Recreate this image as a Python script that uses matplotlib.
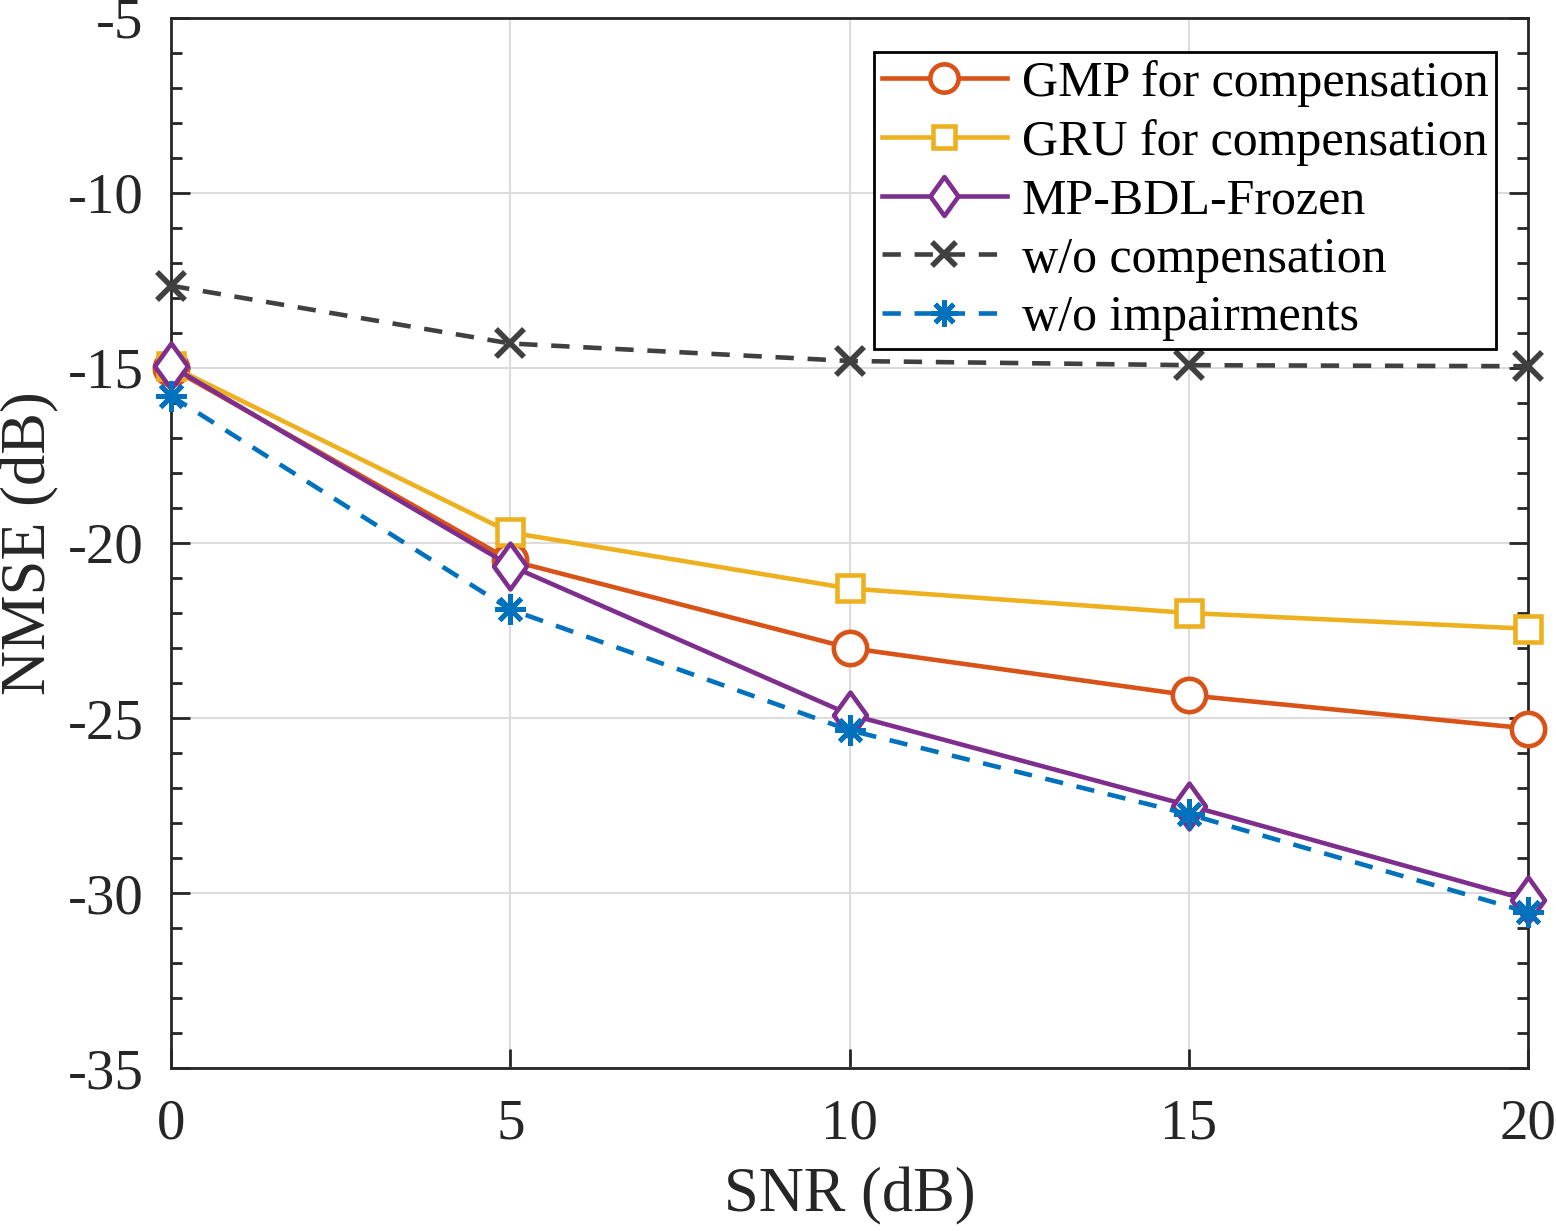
import matplotlib.pyplot as plt
import numpy as np
from matplotlib.ticker import MultipleLocator
from matplotlib.path import Path

plt.rcParams['font.family'] = ['Liberation Serif', 'DejaVu Serif']
plt.rcParams['axes.unicode_minus'] = False

# 数据
snr = [0, 5, 10, 15, 20]
gmp = [-15.0, -20.5, -23.0, -24.35, -25.3]
gru = [-14.95, -19.7, -21.3, -22.0, -22.45]
mp_bdl = [-14.95, -20.65, -24.9, -27.5, -30.2]
wo_comp = [-12.65, -14.3, -14.8, -14.92, -14.95]
wo_imp = [-15.8, -21.9, -25.35, -27.75, -30.55]

# MATLAB 风格的菱形 (更高一些)
diamond = Path([(0, 1), (0.72, 0), (0, -1), (-0.72, 0), (0, 1)],
               [Path.MOVETO, Path.LINETO, Path.LINETO, Path.LINETO, Path.CLOSEPOLY])

fig = plt.figure(figsize=(15.56, 12.31), dpi=100)
ax = fig.add_axes([0.110, 0.1324, 0.872, 0.853])

lw = 3.3
ax.plot(snr, gmp, '-o', color='#D95319', lw=lw, ms=24, mew=3.3, mfc='white',
        label='GMP for compensation', zorder=3, clip_on=False)
ax.plot(snr, gru, '-s', color='#EDB120', lw=lw, ms=19, mew=3.3, mfc='white',
        label='GRU for compensation', zorder=3, clip_on=False)
ax.plot(snr, mp_bdl, '-', marker=diamond, color='#7E2F8E', lw=lw, ms=33, mew=3.3,
        mfc='white', label='MP-BDL-Frozen', zorder=4, clip_on=False)
ax.plot(snr, wo_comp, '--x', color='#404040', lw=lw, ms=20, mew=4,
        dashes=(4, 3), label='w/o compensation', zorder=3, clip_on=False)
ax.plot(snr, wo_imp, '--', marker=(8, 2, 0), color='#0072BD', lw=lw, ms=22, mew=3.5,
        dashes=(4, 3), label='w/o impairments', zorder=5, clip_on=False)

ax.set_xlim(0, 20)
ax.set_ylim(-35, -5)
ax.set_xticks([0, 5, 10, 15, 20])
ax.set_yticks([-35, -30, -25, -20, -15, -10, -5])
ax.yaxis.set_minor_locator(MultipleLocator(1))
ax.tick_params(which='both', direction='in', right=True, top=False,
               labelsize=41, colors='#262626')
ax.tick_params(axis='y', pad=20)
ax.tick_params(axis='x', pad=22)
ax.tick_params(which='major', length=14, width=2)
ax.tick_params(which='minor', length=8, width=2)
for s in ax.spines.values():
    s.set_linewidth(2)
    s.set_color('#262626')
ax.grid(True, color='#dcdcdc', lw=1.5)
ax.set_axisbelow(True)

ax.set_xlabel('SNR (dB)', fontsize=45, color='#262626', labelpad=12)
ax.set_ylabel('NMSE (dB)', fontsize=45, color='#262626', labelpad=6)

leg = ax.legend(loc='upper right', bbox_to_anchor=(0.9765, 0.9675), fontsize=36,
                frameon=True, fancybox=False, framealpha=1, edgecolor='black',
                borderpad=0.15, labelspacing=0.24, handlelength=2.5,
                handletextpad=0.3, borderaxespad=0, markerscale=0.85)
leg.get_frame().set_linewidth(2)

plt.savefig('out.png', dpi=100)
